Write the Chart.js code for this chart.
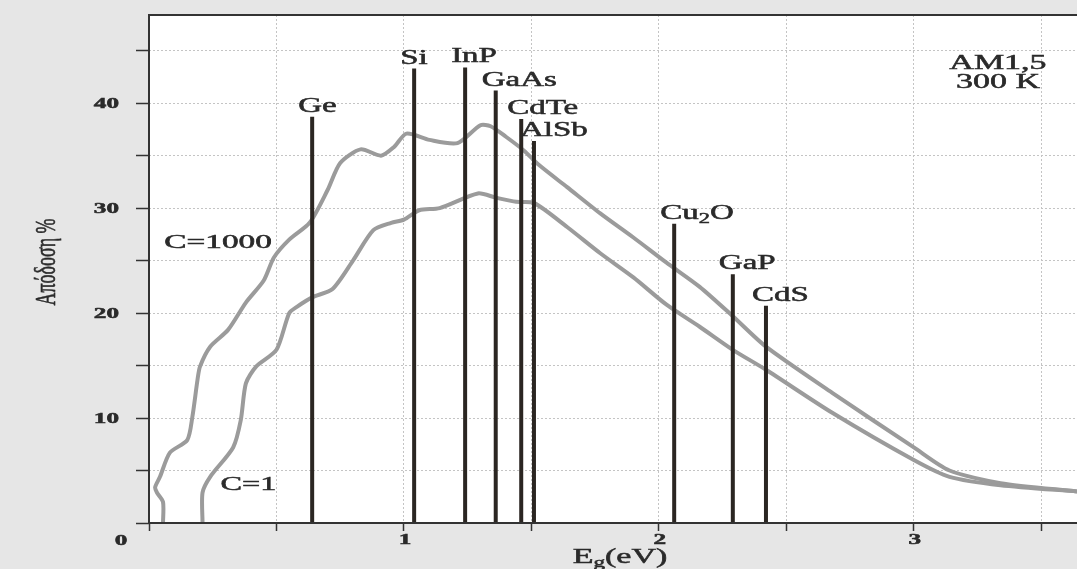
<!DOCTYPE html>
<html lang="el">
<head>
  <meta charset="UTF-8">
  <title>Απόδοση - Eg</title>
  <script src="https://cdn.jsdelivr.net/npm/chart.js"></script>
  <style>
    body {
      margin: 0;
      background-color: #e6e6e6;
    }
    .chart-box {
      width: 1077px;
      height: 569px;
    }
  </style>
</head>
<body>
  <div class="chart-box">
    <canvas id="effChart"></canvas>
  </div>

  <script>
    // υλικά: ενεργειακό χάσμα και μέγιστη απόδοση
    const matNames = ['Ge', 'Si', 'InP', 'GaAs', 'CdTe', 'AlSb', 'Cu2O', 'GaP', 'CdS'];
    const matEg = [0.64, 1.04, 1.24, 1.36, 1.46, 1.51, 2.06, 2.29, 2.42];
    const matEff = [38.7, 43.3, 43.4, 41.2, 38.5, 36.4, 28.5, 23.7, 20.7];

    // καμπύλη C=1000
    const eg1000 = [0.055, 0.055, 0.031, 0.024, 0.043, 0.082, 0.15, 0.17, 0.19, 0.2, 0.24, 0.31, 0.38, 0.45,
      0.49, 0.55, 0.63, 0.70, 0.75, 0.83, 0.91, 0.96, 1.01, 1.10, 1.21, 1.30, 1.34, 1.40, 1.47, 1.53,
      1.64, 1.77, 1.90, 2.03, 2.16, 2.29, 2.42, 2.68, 3.0, 3.14, 3.34, 3.64];
    const eff1000 = [0, 2.0, 2.9, 3.4, 4.4, 6.7, 7.9, 10.1, 13.6, 14.9, 16.8, 18.4, 21.0, 23.1,
      25.3, 27.0, 28.6, 31.7, 34.3, 35.6, 35.0, 35.8, 37.1, 36.5, 36.2, 37.9, 37.8, 36.8, 35.5, 34.1,
      32.0, 29.5, 27.2, 24.8, 22.5, 19.7, 16.8, 12.4, 7.2, 5.0, 3.8, 3.0];

    // καμπύλη C=1
    const eg1 = [0.21, 0.21, 0.24, 0.33, 0.36, 0.38, 0.42, 0.50, 0.55, 0.58, 0.64, 0.72, 0.80, 0.88,
      0.95, 1.0, 1.06, 1.14, 1.29, 1.36, 1.44, 1.51, 1.64, 1.77, 1.90, 2.03, 2.16, 2.29, 2.42, 2.68,
      3.0, 3.14, 3.34, 3.64];
    const eff1 = [0, 2.9, 4.4, 7.2, 9.8, 13.3, 14.9, 16.5, 20.0, 20.6, 21.5, 22.3, 25.0, 27.9,
      28.6, 28.9, 29.8, 30.0, 31.4, 31.0, 30.6, 30.5, 28.2, 25.7, 23.4, 20.8, 18.7, 16.5, 14.6, 10.5,
      6.0, 4.4, 3.6, 3.0];

    const yTickLabels = [10, 20, 30, 40];
    const xTickLabels = [1, 2, 3];

    const inkColor = '#2a2a2a';
    const serif = '"Liberation Serif", "DejaVu Serif", serif';

    function toPoints(xs, ys) {
      return xs.map((x, i) => ({ x: x, y: ys[i] }));
    }

    // κείμενο με δείκτες (π.χ. Cu2O, Eg), τεντωμένο οριζόντια όπως στη σάρωση
    function drawRich(ctx, parts, x, y, size, sx, align, weight) {
      ctx.save();
      ctx.translate(x, y);
      ctx.scale(sx, 1);
      ctx.fillStyle = inkColor;
      ctx.strokeStyle = inkColor;
      ctx.lineWidth = 0.5;
      ctx.textBaseline = 'alphabetic';
      ctx.textAlign = 'left';
      let w = 0;
      parts.forEach(p => {
        ctx.font = (weight || 'normal') + ' ' + (p.sub ? size * 0.68 : size) + 'px ' + serif;
        w += ctx.measureText(p.t).width;
      });
      let cx = align === 'center' ? -w / 2 : (align === 'right' ? -w : 0);
      parts.forEach(p => {
        ctx.font = (weight || 'normal') + ' ' + (p.sub ? size * 0.68 : size) + 'px ' + serif;
        const dy = p.sub ? size * 0.22 : 0;
        ctx.fillText(p.t, cx, dy);
        ctx.strokeText(p.t, cx, dy);
        cx += ctx.measureText(p.t).width;
      });
      ctx.restore();
    }

    function chemParts(name) {
      return name.split(/(\d+)/).filter(s => s).map(s => ({ t: s, sub: /^\d+$/.test(s) }));
    }

    const textPlugin = {
      id: 'textPlugin',
      beforeDraw(chart) {
        const { ctx, chartArea } = chart;
        ctx.save();
        ctx.fillStyle = '#ffffff';
        ctx.fillRect(chartArea.left, chartArea.top, chartArea.right - chartArea.left, chartArea.bottom - chartArea.top);
        ctx.restore();
      },
      afterDraw(chart) {
        const { ctx, chartArea } = chart;
        const xs = chart.scales.x;
        const ys = chart.scales.y;

        // πλαίσιο
        ctx.save();
        ctx.strokeStyle = '#333';
        ctx.lineWidth = 2;
        ctx.beginPath();
        ctx.moveTo(chartArea.right, chartArea.top);
        ctx.lineTo(chartArea.left, chartArea.top);
        ctx.lineTo(chartArea.left, chartArea.bottom);
        ctx.lineTo(chartArea.right, chartArea.bottom);
        ctx.stroke();
        ctx.restore();

        // ετικέτες αξόνων
        yTickLabels.forEach(v => {
          drawRich(ctx, [{ t: String(v) }], xs.getPixelForValue(0) - 30, ys.getPixelForValue(v) + 5, 14, 1.8, 'right', 'bold');
        });
        xTickLabels.forEach(v => {
          drawRich(ctx, [{ t: String(v) }], xs.getPixelForValue(v) + 1, chartArea.bottom + 21, 14, 1.8, 'center', 'bold');
        });
        drawRich(ctx, [{ t: '0' }], xs.getPixelForValue(0) - 28, chartArea.bottom + 22, 14, 1.8, 'center', 'bold');

        drawRich(ctx, [{ t: 'E' }, { t: 'g', sub: true }, { t: '(eV)' }], 620, 563, 20, 1.7, 'center');

        ctx.save();
        ctx.translate(47, 262);
        ctx.scale(1.6, 1);
        ctx.rotate(-Math.PI / 2);
        ctx.fillStyle = inkColor;
        ctx.strokeStyle = inkColor;
        ctx.lineWidth = 0.4;
        ctx.font = '18px ' + serif;
        ctx.textAlign = 'center';
        ctx.textBaseline = 'middle';
        ctx.fillText('Απόδοση %', 0, 0);
        ctx.strokeText('Απόδοση %', 0, 0);
        ctx.restore();

        // ονόματα υλικών
        matNames.forEach((n, i) => {
          const px = xs.getPixelForValue(matEg[i]);
          const py = ys.getPixelForValue(matEff[i]);
          drawRich(ctx, chemParts(n), px - 14, py - 5, 20, 1.65, 'left');
        });

        // σχόλια
        drawRich(ctx, [{ t: 'C=1000' }], xs.getPixelForValue(0.06), ys.getPixelForValue(26.2), 18, 1.85, 'left');
        drawRich(ctx, [{ t: 'C=1' }], xs.getPixelForValue(0.28), ys.getPixelForValue(3.1), 19, 1.7, 'left');
        drawRich(ctx, [{ t: 'AM1,5' }], xs.getPixelForValue(3.33), ys.getPixelForValue(43.3), 20, 1.7, 'center');
        drawRich(ctx, [{ t: '300 K' }], xs.getPixelForValue(3.33), ys.getPixelForValue(41.4), 20, 1.7, 'center');
      }
    };

    const curveStyle = {
      showLine: true,
      borderColor: '#9b9b9b',
      borderWidth: 4,
      pointRadius: 0,
      tension: 0.25,
      order: 1
    };

    const datasets = [
      Object.assign({ label: 'C=1000', data: toPoints(eg1000, eff1000) }, curveStyle),
      Object.assign({ label: 'C=1', data: toPoints(eg1, eff1) }, curveStyle)
    ];

    matNames.forEach((n, i) => {
      datasets.push({
        label: n,
        data: [{ x: matEg[i], y: 0 }, { x: matEg[i], y: matEff[i] }],
        showLine: true,
        borderColor: '#2b2622',
        borderWidth: 4,
        pointRadius: 0,
        order: 0
      });
    });

    new Chart(document.getElementById('effChart'), {
      type: 'scatter',
      data: { datasets: datasets },
      options: {
        animation: false,
        responsive: true,
        maintainAspectRatio: false,
        layout: { padding: { top: 15, right: 0, left: 0, bottom: 0 } },
        plugins: {
          legend: { display: false },
          tooltip: { enabled: false }
        },
        scales: {
          x: {
            type: 'linear',
            min: 0,
            max: 3.64,
            ticks: { stepSize: 0.5, display: false, includeBounds: false },
            grid: { color: '#c4c4c4', lineWidth: 1, tickLength: 8, tickColor: '#333', tickWidth: 1.5 },
            border: { display: false, dash: [2, 2] },
            afterFit(scale) { scale.height = 46; }
          },
          y: {
            min: 0,
            max: 48.4,
            ticks: { stepSize: 5, display: false, includeBounds: false },
            grid: { color: '#c4c4c4', lineWidth: 1, tickLength: 13, tickColor: '#333', tickWidth: 1.5 },
            border: { display: false, dash: [2, 2] },
            afterFit(scale) { scale.width = 149; }
          }
        }
      },
      plugins: [textPlugin]
    });
  </script>
</body>
</html>
